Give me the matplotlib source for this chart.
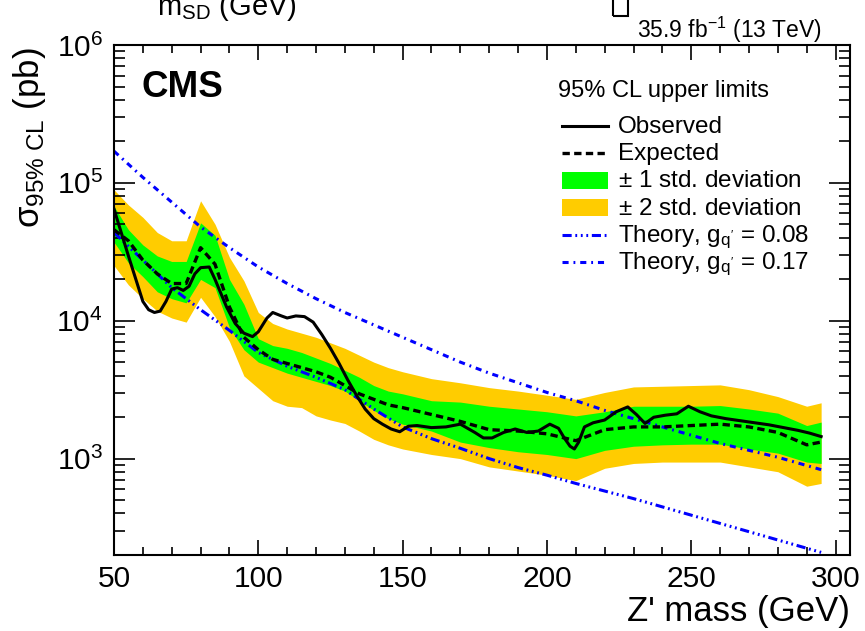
import numpy as np
import matplotlib
matplotlib.use("Agg")
import matplotlib.pyplot as plt
from matplotlib.patches import Rectangle
from matplotlib.ticker import LogLocator, MultipleLocator, NullFormatter

plt.rcParams['font.family'] = ['Liberation Sans', 'DejaVu Sans']
plt.rcParams['mathtext.fontset'] = 'custom'
plt.rcParams['mathtext.rm'] = 'Liberation Sans'
plt.rcParams['mathtext.it'] = 'Liberation Sans:italic'
plt.rcParams['mathtext.bf'] = 'Liberation Sans:bold'

# expected limit and its bands (pb), evaluated on the scan grid
mass = [50, 55, 60, 65, 70, 75, 80, 85, 90, 95, 100, 105, 110, 115, 120, 125,
        130, 135, 140, 145, 150, 160, 170, 180, 190, 200, 210, 220, 230, 240,
        250, 260, 270, 280, 290, 295]
exp_log = [4.66, 4.58, 4.44, 4.34, 4.27, 4.27, 4.53, 4.41, 4.10, 3.88, 3.79, 3.72,
           3.69, 3.66, 3.63, 3.59, 3.53, 3.47, 3.43, 3.39, 3.37, 3.32, 3.27, 3.21,
           3.20, 3.18, 3.13, 3.21, 3.23, 3.23, 3.24, 3.25, 3.23, 3.19, 3.10, 3.12]
p1_log = [4.83, 4.66, 4.55, 4.47, 4.43, 4.43, 4.71, 4.62, 4.30, 4.12, 3.87, 3.82,
          3.80, 3.77, 3.73, 3.69, 3.64, 3.59, 3.53, 3.49, 3.47, 3.42, 3.41, 3.38,
          3.36, 3.34, 3.31, 3.34, 3.38, 3.38, 3.38, 3.385, 3.36, 3.33, 3.24, 3.265]
m1_log = [4.57, 4.42, 4.32, 4.21, 4.16, 4.13, 4.30, 4.24, 3.95, 3.79, 3.70, 3.66,
          3.62, 3.59, 3.56, 3.53, 3.49, 3.42, 3.35, 3.29, 3.25, 3.20, 3.12, 3.08,
          3.05, 3.03, 3.00, 3.06, 3.09, 3.10, 3.105, 3.105, 3.07, 3.04, 2.975, 2.965]
p2_log = [4.95, 4.84, 4.75, 4.64, 4.58, 4.58, 4.87, 4.70, 4.46, 4.29, 4.06, 3.98,
          3.94, 3.91, 3.88, 3.84, 3.80, 3.75, 3.70, 3.66, 3.63, 3.58, 3.55, 3.515,
          3.49, 3.46, 3.43, 3.48, 3.52, 3.525, 3.53, 3.535, 3.50, 3.45, 3.38, 3.405]
m2_log = [4.40, 4.26, 4.16, 4.07, 4.02, 3.99, 4.17, 4.03, 3.85, 3.60, 3.51, 3.42,
          3.38, 3.37, 3.31, 3.28, 3.255, 3.20, 3.14, 3.10, 3.07, 3.03, 3.00, 2.94,
          2.91, 2.88, 2.84, 2.93, 2.965, 2.975, 2.975, 2.975, 2.94, 2.905, 2.80, 2.82]

# observed limit (pb)
obs_mass = [50, 55, 60, 62, 64, 66, 68, 70, 72, 74, 76, 78, 80, 83, 85, 87, 89,
            92, 95, 98, 100, 103, 105, 108, 110, 113, 116, 119, 122, 125, 128,
            131, 134, 137, 140, 143, 146, 149, 152, 155, 160, 165, 170, 175, 178,
            181, 185, 189, 193, 197, 201, 204, 206, 208, 209.5, 211, 213, 216,
            220, 224, 228, 231, 234, 237, 241, 245, 249, 253, 257, 262, 267, 272,
            277, 282, 287, 291, 295]
obs_log = [4.81, 4.47, 4.14, 4.08, 4.06, 4.07, 4.14, 4.23, 4.24, 4.22, 4.25, 4.34,
           4.385, 4.39, 4.30, 4.20, 4.10, 3.98, 3.91, 3.885, 3.92, 4.02, 4.06,
           4.035, 4.02, 4.035, 4.03, 3.99, 3.90, 3.80, 3.69, 3.57, 3.46, 3.36,
           3.29, 3.25, 3.215, 3.195, 3.235, 3.24, 3.225, 3.23, 3.25, 3.19, 3.15,
           3.15, 3.19, 3.215, 3.19, 3.20, 3.25, 3.22, 3.15, 3.09, 3.07, 3.12,
           3.23, 3.26, 3.28, 3.34, 3.375, 3.32, 3.255, 3.30, 3.315, 3.325, 3.38,
           3.34, 3.31, 3.29, 3.275, 3.26, 3.245, 3.225, 3.205, 3.185, 3.16]

# theory cross sections (pb)
th_mass = [50, 60, 70, 80, 90, 100, 110, 120, 130, 140, 150, 160, 170, 180, 190,
           200, 210, 220, 230, 240, 250, 260, 270, 280, 290, 295]
th008_log = [4.64, 4.44, 4.24, 4.08, 3.93, 3.77, 3.67, 3.59, 3.50, 3.36, 3.23, 3.145,
             3.075, 3.00, 2.935, 2.88, 2.82, 2.765, 2.71, 2.65, 2.59, 2.53, 2.47,
             2.41, 2.35, 2.32]
th017_log = [5.23, 5.04, 4.86, 4.68, 4.53, 4.39, 4.27, 4.16, 4.06, 3.97, 3.88, 3.79,
             3.70, 3.62, 3.55, 3.48, 3.42, 3.35, 3.29, 3.23, 3.17, 3.11, 3.06, 3.01,
             2.95, 2.92]

exp = 10 ** np.array(exp_log)
p1, m1 = 10 ** np.array(p1_log), 10 ** np.array(m1_log)
p2, m2 = 10 ** np.array(p2_log), 10 ** np.array(m2_log)
obs = 10 ** np.array(obs_log)
th008 = 10 ** np.array(th008_log)
th017 = 10 ** np.array(th017_log)

GREEN = '#00ff00'
YELLOW = '#ffcc00'
BLUE = '#0000ff'
dash_exp = (2.2, 1.3)
dash_008 = (3, 1.2, 0.6, 1.2, 0.6, 1.2, 0.6, 1.2)
dash_017 = (2, 1.6, 0.6, 1.6)

fig = plt.figure(figsize=(8.65, 6.31), dpi=100)
ax = fig.add_axes([114 / 865, 1 - 555 / 631, 736 / 865, 510 / 631])

ax.fill_between(mass, m2, p2, color=YELLOW, lw=0)
ax.fill_between(mass, m1, p1, color=GREEN, lw=0)
ax.plot(th_mass, th008, color=BLUE, lw=2.2, dashes=dash_008)
ax.plot(th_mass, th017, color=BLUE, lw=2.2, dashes=dash_017)
ax.plot(mass, exp, color='black', lw=2.4, dashes=dash_exp)
ax.plot(obs_mass, obs, color='black', lw=2.2)

ax.set_yscale('log')
ax.set_xlim(50, 305)
ax.set_ylim(200, 1e6)
ax.xaxis.set_major_locator(MultipleLocator(50))
ax.xaxis.set_minor_locator(MultipleLocator(10))
ax.yaxis.set_major_locator(LogLocator(base=10, numticks=10))
ax.yaxis.set_minor_locator(LogLocator(base=10, subs=np.arange(2, 10), numticks=20))
ax.yaxis.set_minor_formatter(NullFormatter())
ax.tick_params(which='both', direction='in', top=True, right=True, width=1.2,
               labelsize=21.5)
ax.tick_params(axis='x', which='major', length=11, pad=7)
ax.tick_params(axis='x', which='minor', length=5.8)
ax.tick_params(axis='y', which='major', length=15, pad=8)
ax.tick_params(axis='y', which='minor', length=8)
for sp in ax.spines.values():
    sp.set_linewidth(1.5)

ax.set_xlabel("Z' mass (GeV)", fontsize=25, loc='right', labelpad=2)
ax.set_ylabel('σ$_{\\mathrm{95\\%\\ CL}}$ (pb)', fontsize=25, loc='top')
ax.yaxis.set_label_coords(-0.09, 0.995)

ax.text(0.0367, 0.8986, 'CMS', transform=ax.transAxes, fontsize=26.5,
        fontweight='bold', va='baseline')

# legend block
tr = ax.transAxes
def ay(py):
    return (555 - py) / 510
x0, x1, xt = 0.6083, 0.6716, 0.6852
ax.text(0.603, ay(96.7), '95% CL upper limits', transform=tr, fontsize=17,
        va='baseline')
rows = [132.7, 160.0, 187.3, 214.6, 241.9, 269.2]
labels = ['Observed', 'Expected', '$\\pm$ 1 std. deviation', '$\\pm$ 2 std. deviation',
          "Theory, g$_{\\mathrm{q'}}$ = 0.08", "Theory, g$_{\\mathrm{q'}}$ = 0.17"]
for py, lab in zip(rows, labels):
    ax.text(xt, ay(py), lab, transform=tr, fontsize=17.5, va='baseline')
ax.plot([x0, x1], [ay(rows[0] - 7)] * 2, transform=tr, color='black', lw=2.2)
ax.plot([x0, x1], [ay(rows[1] - 7)] * 2, transform=tr, color='black', lw=2.4,
        dashes=dash_exp)
for py, col in [(rows[2], GREEN), (rows[3], YELLOW)]:
    ax.add_patch(Rectangle((x0, ay(py - 7) - 8.3 / 510), x1 - x0, 16.7 / 510,
                           transform=tr, color=col, lw=0))
ax.plot([x0, x1], [ay(rows[4] - 7)] * 2, transform=tr, color=BLUE, lw=2.2,
        dashes=dash_008)
ax.plot([x0, x1], [ay(rows[5] - 7)] * 2, transform=tr, color=BLUE, lw=2.2,
        dashes=dash_017)

# header strip above the frame
fig.text(822 / 865, 1 - 38 / 631, '35.9 fb$^{-1}$ (13 TeV)', fontsize=16.5,
         ha='right', va='baseline')
fig.text(157 / 865, 1 - 15 / 631, 'm$_{\\mathrm{SD}}$ (GeV)', fontsize=21,
         ha='left', va='baseline')
fig.add_artist(Rectangle((613 / 865, 1 - 16 / 631), 15 / 865, 0.05,
                         transform=fig.transFigure, fill=False, lw=1.5,
                         edgecolor='black'))

fig.savefig('out.png', dpi=100)
